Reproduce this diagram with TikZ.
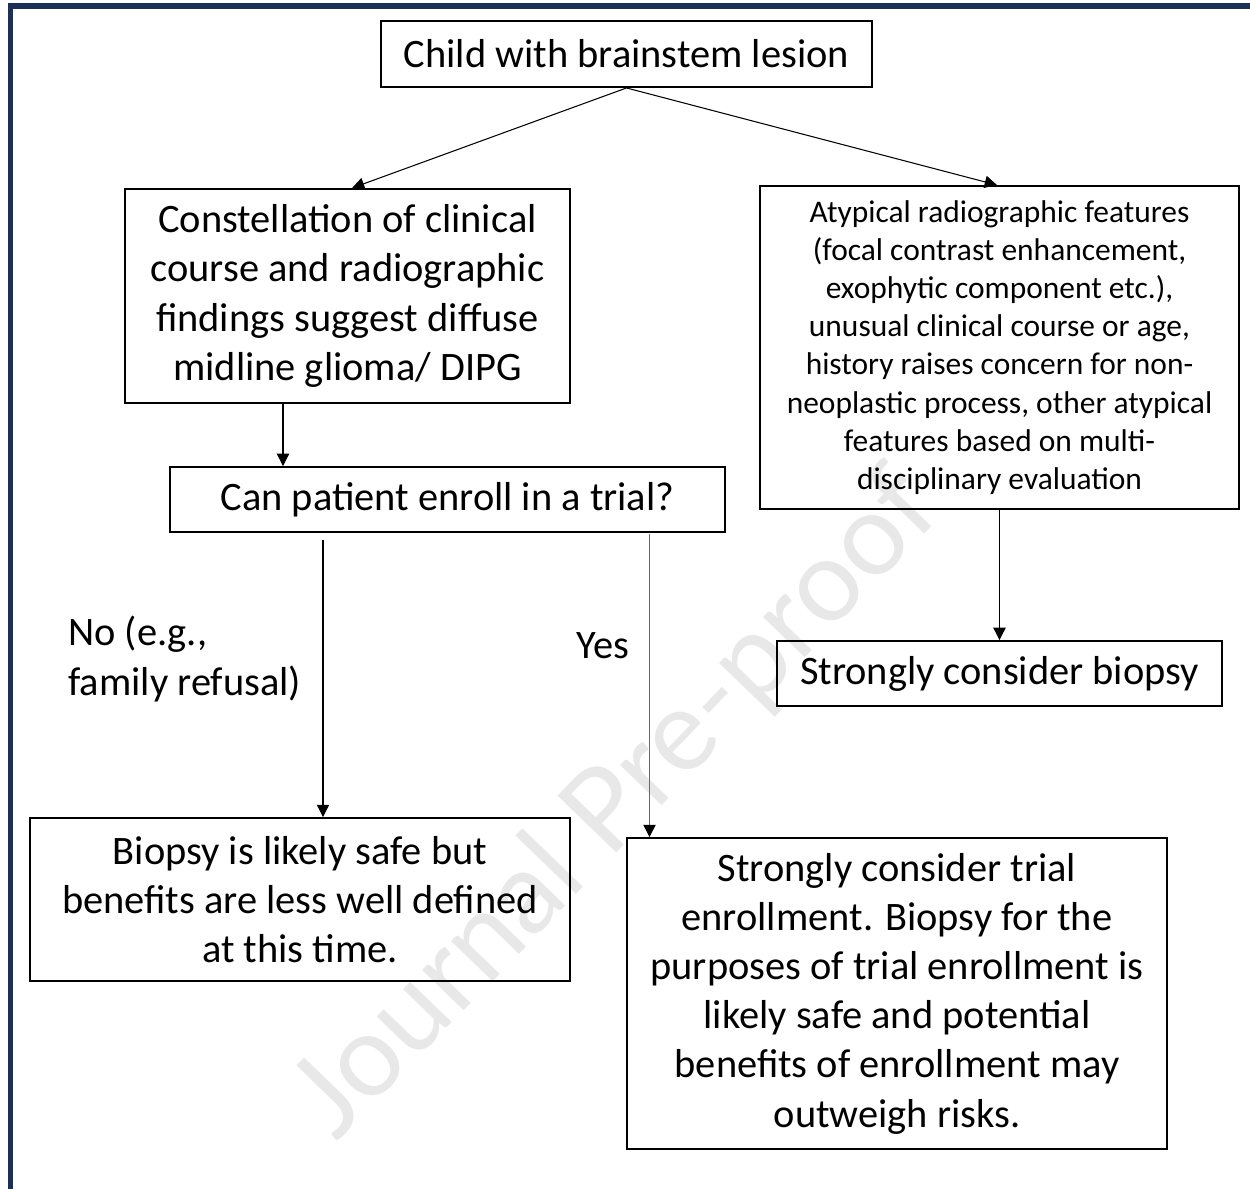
\documentclass[tikz,border=0pt]{standalone}
\usepackage{fontspec}
\setmainfont{Carlito}
\newfontfamily\markfont{Lato}
\usetikzlibrary{arrows.meta,calc}
\definecolor{framenavy}{RGB}{28,48,87}
\definecolor{markgray}{RGB}{232,232,232}
\definecolor{yesgray}{RGB}{105,105,105}
\begin{document}
\begin{tikzpicture}[x=0.02cm,y=-0.02cm,
  box/.style={draw=black,line width=1.1pt,rectangle,inner sep=0pt,align=center,
    font=\fontsize{23pt}{28pt}\selectfont},
  smallbox/.style={box,font=\fontsize{17.9pt}{21.7pt}\selectfont},
  label/.style={inner sep=0pt,font=\fontsize{23pt}{28pt}\selectfont},
  arr/.style={line width=0.6pt,-{Triangle[length=7pt,width=7pt]}}]
\useasboundingbox (0,0) rectangle (1250,1189);
% page frame (left and top edges)
\draw[framenavy,line width=3.2pt] (10.5,1189) -- (10.5,6) -- (1250,6);
% watermark
\node[markgray,rotate=46,inner sep=0pt,font=\markfont\fontsize{65pt}{72pt}\selectfont]
  (mark) at (617,806) {Journal Pre-proof};
% boxes
\node[box,minimum width=9.82cm,minimum height=1.32cm] (top) at (626.5,54)
  {Child with brainstem lesion};
\node[box,minimum width=8.9cm,minimum height=4.28cm] (left) at (347.5,296)
  {Constellation of clinical\\course and radiographic\\findings suggest diffuse\\midline glioma/ DIPG};
\node[smallbox,minimum width=9.58cm,minimum height=6.46cm] (right) at (999.5,347.5)
  {Atypical radiographic features\\(focal contrast enhancement,\\exophytic component etc.),\\unusual clinical course or age,\\history raises concern for non-\\neoplastic process, other atypical\\features based on multi-\\disciplinary evaluation};
\node[box,minimum width=11.1cm,minimum height=1.3cm] (can) at (447.5,499.5)
  {Can patient enroll in a trial?};
\node[box,minimum width=8.9cm,minimum height=1.3cm] (bio) at (999.5,673.5)
  {Strongly consider biopsy};
\node[box,minimum width=10.8cm,minimum height=3.26cm] (bl) at (300,899.5)
  {Biopsy is likely safe but\\benefits are less well defined\\at this time.};
\node[box,minimum width=10.8cm,minimum height=6.22cm] (br) at (897,993.5)
  {Strongly consider trial\\enrollment. Biopsy for the\\purposes of trial enrollment is\\likely safe and potential\\benefits of enrollment may\\outweigh risks.};
% branch labels
\node[label,anchor=west,align=left] (nolab) at (68,659) {No (e.g.,\\family refusal)};
\node[label] (yeslab) at (603,646) {Yes};
% connectors
\draw[arr] (top.south) -- ($(left.north)+(4.5,0)$);
\draw[arr] (top.south) -- ($(right.north)+(-2.5,0)$);
\coordinate (ldown) at ($(left.south)+(-64.5,0)$);
\draw[arr] (ldown) -- (ldown |- can.north);
\coordinate (nostart) at ($(can.south)+(-124.5,7)$);
\draw[arr] (nostart) -- (nostart |- bl.north);
\coordinate (yesstart) at ($(can.south)+(202,1)$);
\draw[line width=0.6pt,yesgray,-{Triangle[length=7pt,width=7pt,color=black]}]
  (yesstart) -- (yesstart |- br.north);
\draw[arr] (right.south) -- (bio.north);
\end{tikzpicture}
\end{document}
